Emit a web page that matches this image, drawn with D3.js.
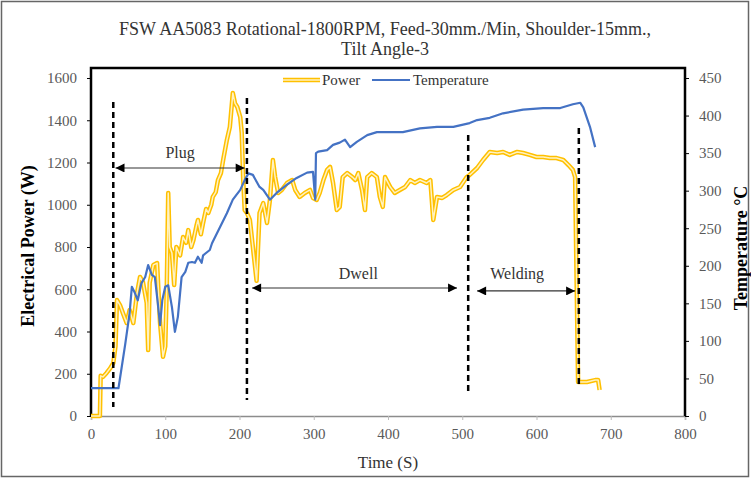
<!DOCTYPE html>
<html>
<head>
<meta charset="utf-8">
<script src="https://cdn.jsdelivr.net/npm/d3@7"></script>
<style>
  body { margin: 0; background: #fff; }
  svg, svg text { font-family: "Liberation Serif", "Times New Roman", "DejaVu Serif", serif; }
  svg { display: block; }
</style>
</head>
<body>
<svg id="chart" width="751" height="479"></svg>
<script>
// power curve (W)
const powerTime = [0, 12, 13, 16, 21, 26, 30, 33, 35, 39, 43, 48, 52, 57, 62, 66, 70, 75, 77, 79, 84, 89, 93, 97, 100, 102, 104, 106, 109, 112, 115, 120, 124, 128, 131, 135, 138, 142, 144, 148, 151, 155, 158, 162, 164, 168, 171, 175, 178, 183, 187, 191, 194, 197, 201, 203, 205, 207, 210, 214, 218, 223, 227, 232, 237, 241, 245, 248, 252, 257, 264, 271, 275, 281, 288, 295, 299, 304, 308, 313, 318, 322, 326, 331, 335, 339, 345, 352, 356, 360, 365, 369, 372, 378, 385, 389, 393, 396, 403, 409, 416, 423, 430, 436, 443, 452, 457, 461, 466, 473, 479, 488, 497, 506, 510, 520, 528, 537, 547, 555, 564, 574, 582, 591, 600, 609, 618, 627, 636, 643, 649, 652, 654, 656, 668, 679, 683, 685]
const powerValue = [0, 0, 190, 185, 204, 227, 250, 330, 549, 525, 487, 440, 502, 440, 582, 658, 634, 535, 312, 630, 715, 724, 440, 280, 330, 600, 1056, 800, 772, 620, 800, 760, 847, 820, 880, 800, 833, 900, 928, 860, 914, 980, 961, 1000, 1037, 1060, 1117, 1150, 1212, 1307, 1368, 1529, 1480, 1463, 1415, 1340, 1117, 975, 961, 928, 800, 640, 961, 1008, 914, 1023, 1212, 1131, 1056, 1070, 1103, 1117, 1070, 1037, 1056, 1070, 1032, 1023, 1056, 1117, 1165, 1179, 1103, 975, 990, 1131, 1150, 1131, 1117, 1150, 1070, 975, 1131, 1150, 1131, 1037, 990, 1131, 1084, 1056, 1070, 1084, 1117, 1103, 1117, 1103, 1117, 928, 1037, 1032, 1046, 1070, 1084, 1131, 1141, 1174, 1212, 1250, 1245, 1250, 1236, 1250, 1245, 1236, 1226, 1226, 1221, 1221, 1212, 1188, 1165, 1131, 644, 161, 161, 170, 170, 123]

// temperature curve (°C)
const tempTime = [0, 30, 37, 46, 52, 55, 59, 63, 68, 73, 77, 82, 86, 90, 93, 96, 100, 104, 109, 113, 117, 122, 127, 131, 136, 140, 144, 149, 151, 160, 163, 174, 183, 191, 201, 207, 212, 218, 227, 232, 241, 250, 264, 277, 291, 299, 302, 303, 306, 318, 326, 335, 342, 349, 358, 372, 385, 403, 420, 443, 466, 488, 510, 520, 537, 555, 582, 609, 632, 649, 659, 663, 672, 679]
const tempValue = [37, 37, 37, 95, 137, 172, 164, 154, 177, 185, 201, 188, 185, 150, 121, 154, 172, 174, 145, 112, 132, 185, 192, 204, 205, 204, 212, 204, 214, 221, 230, 252, 270, 288, 301, 314, 323, 321, 305, 301, 288, 297, 308, 317, 324, 325, 288, 350, 352, 354, 361, 364, 368, 358, 365, 374, 378, 378, 378, 383, 385, 385, 390, 394, 397, 403, 408, 410, 410, 415, 417, 411, 385, 358]

const timeTicks = [0, 100, 200, 300, 400, 500, 600, 700, 800]
const powerTicks = [0, 200, 400, 600, 800, 1000, 1200, 1400, 1600]
const tempTicks = [0, 50, 100, 150, 200, 250, 300, 350, 400, 450]

// phase boundaries: time, top power, bottom power
const phaseLines = [[30, 1486, 43], [210, 1505, 76], [508, 1330, 99], [657, 1363, 137]]
// phase arrows
const phaseNames = ["Plug", "Dwell", "Welding"]
const phaseFrom = [33, 217, 520]
const phaseTo = [207, 493, 652]
const phaseLevel = [1174, 606, 592]
const phaseLabelT = [120, 360, 574]
const phaseLabelP = [1250, 677, 677]

const svg = d3.select('#chart')
const serif = "Liberation Serif, Times New Roman, serif"

const x = d3.scaleLinear().domain([0, 800]).range([91, 685])
const y = d3.scaleLinear().domain([0, 1600]).range([416, 78])
const y2 = d3.scaleLinear().domain([0, 450]).range([416, 78])
const frameTop = 68

// outer frame
svg.append("rect")
  .attr("x", 1.5).attr("y", 1.5).attr("width", 747).attr("height", 475)
  .attr("fill", "none").attr("stroke", "#666").attr("stroke-width", 1.5)

// title
const title = svg.append("text").attr("text-anchor", "middle").attr("fill", "#333")
  .attr("font-family", serif).style("font-size", "18px")
title.append("tspan").attr("x", 385).attr("y", 35).text("FSW AA5083 Rotational-1800RPM, Feed-30mm./Min, Shoulder-15mm.,")
title.append("tspan").attr("x", 385).attr("y", 55).text("Tilt Angle-3")

// bottom axis
const xAxis = svg.append("g")
  .attr("transform", "translate(0," + y(0) + ")")
  .call(d3.axisBottom(x).tickValues(timeTicks).tickSize(4).tickPadding(8))
xAxis.select(".domain").attr("stroke", "#8c8c8c").attr("stroke-width", 1.5)
xAxis.selectAll(".tick line").attr("stroke", "#bbb")
xAxis.selectAll("text").style("font-size", "15px").attr("fill", "#595959").style("font-family", serif)

// left axis
const yAxis = svg.append("g")
  .attr("transform", "translate(" + x(0) + ",0)")
  .call(d3.axisLeft(y).tickValues(powerTicks).tickFormat(d3.format("d")).tickSize(4).tickPadding(10))
yAxis.select(".domain").remove()
yAxis.selectAll(".tick line").attr("stroke", "#000")
yAxis.selectAll("text").style("font-size", "15px").attr("fill", "#595959").style("font-family", serif)

// right axis
const y2Axis = svg.append("g")
  .attr("transform", "translate(" + x(800) + ",0)")
  .call(d3.axisRight(y2).tickValues(tempTicks).tickSize(4).tickPadding(10))
y2Axis.select(".domain").remove()
y2Axis.selectAll(".tick line").attr("stroke", "#000")
y2Axis.selectAll("text").style("font-size", "15px").attr("fill", "#595959").style("font-family", serif)

// plot frame: top, left, right in black
svg.append("path")
  .attr("d", "M" + x(0) + "," + y(0) + "V" + frameTop + "H" + x(800) + "V" + y(0))
  .attr("fill", "none").attr("stroke", "#000").attr("stroke-width", 2.5)

// axis titles
svg.append("text")
  .attr("transform", "translate(28,246) rotate(-90)")
  .attr("text-anchor", "middle").attr("dy", "0.35em")
  .style("font-family", serif).style("font-size", "18px").style("font-weight", "bold")
  .text("Electrical Power (W)")

svg.append("text")
  .attr("transform", "translate(741,248) rotate(-90)")
  .attr("text-anchor", "middle").attr("dy", "0.35em")
  .style("font-family", serif).style("font-size", "18px").style("font-weight", "bold")
  .text("Temperature °C")

svg.append("text")
  .attr("x", 388).attr("y", 468).attr("text-anchor", "middle")
  .attr("fill", "#333").style("font-family", serif).style("font-size", "17px")
  .text("Time (S)")

// lines
const powerLine = d3.line().x(d => x(d[0])).y(d => y(d[1]))
const tempLine = d3.line().x(d => x(d[0])).y(d => y2(d[1]))

const powerData = d3.zip(powerTime, powerValue)
const tempData = d3.zip(tempTime, tempValue)

svg.append("path").datum(powerData).attr("d", powerLine)
  .attr("fill", "none").attr("stroke", "#FFC000").attr("stroke-width", 4.5).attr("stroke-linejoin", "round")
svg.append("path").datum(powerData).attr("d", powerLine)
  .attr("fill", "none").attr("stroke", "#FFF2C2").attr("stroke-width", 1.5).attr("stroke-linejoin", "round")

svg.append("path").datum(tempData).attr("d", tempLine)
  .attr("fill", "none").attr("stroke", "#4472C4").attr("stroke-width", 2.2).attr("stroke-linejoin", "round")

// dashed phase lines
svg.append("g").selectAll("line")
  .data(phaseLines).enter().append("line")
  .attr("x1", d => x(d[0])).attr("x2", d => x(d[0]))
  .attr("y1", d => y(d[1])).attr("y2", d => y(d[2]))
  .attr("stroke", "#000").attr("stroke-width", 2.5).attr("stroke-dasharray", "6,4")

// arrows
const defs = svg.append("defs")
defs.append("marker").attr("id", "arrowEnd")
  .attr("viewBox", "0 0 10 10").attr("refX", 10).attr("refY", 5)
  .attr("markerWidth", 12).attr("markerHeight", 9).attr("markerUnits", "userSpaceOnUse").attr("orient", "auto")
  .append("path").attr("d", "M0,0 L10,5 L0,10 Z").attr("fill", "#000")
defs.append("marker").attr("id", "arrowStart")
  .attr("viewBox", "0 0 10 10").attr("refX", 0).attr("refY", 5)
  .attr("markerWidth", 12).attr("markerHeight", 9).attr("markerUnits", "userSpaceOnUse").attr("orient", "auto")
  .append("path").attr("d", "M10,0 L0,5 L10,10 Z").attr("fill", "#000")

const phases = d3.range(phaseNames.length)
svg.append("g").selectAll("line")
  .data(phases).enter().append("line")
  .attr("x1", i => x(phaseFrom[i])).attr("x2", i => x(phaseTo[i]))
  .attr("y1", i => y(phaseLevel[i])).attr("y2", i => y(phaseLevel[i]))
  .attr("stroke", "#333").attr("stroke-width", 1.2)
  .attr("marker-start", "url(#arrowStart)").attr("marker-end", "url(#arrowEnd)")

svg.append("g").selectAll("text")
  .data(phases).enter().append("text")
  .attr("x", i => x(phaseLabelT[i])).attr("y", i => y(phaseLabelP[i]))
  .attr("dy", "0.35em").attr("text-anchor", "middle")
  .attr("fill", "#333").style("font-family", serif).style("font-size", "16px")
  .text(i => phaseNames[i])

// legend
const legend = svg.append("g")
legend.append("line").attr("x1", 283).attr("x2", 320).attr("y1", 80).attr("y2", 80)
  .attr("stroke", "#FFC000").attr("stroke-width", 4.5)
legend.append("line").attr("x1", 283).attr("x2", 320).attr("y1", 80).attr("y2", 80)
  .attr("stroke", "#FFF2C2").attr("stroke-width", 1.5)
legend.append("text").attr("x", 322).attr("y", 80).attr("dy", "0.35em")
  .attr("fill", "#333").style("font-family", serif).style("font-size", "15px").text("Power")
legend.append("line").attr("x1", 372).attr("x2", 410).attr("y1", 80).attr("y2", 80)
  .attr("stroke", "#4472C4").attr("stroke-width", 2.2)
legend.append("text").attr("x", 413).attr("y", 80).attr("dy", "0.35em")
  .attr("fill", "#333").style("font-family", serif).style("font-size", "15px").text("Temperature")
</script>
</body>
</html>
